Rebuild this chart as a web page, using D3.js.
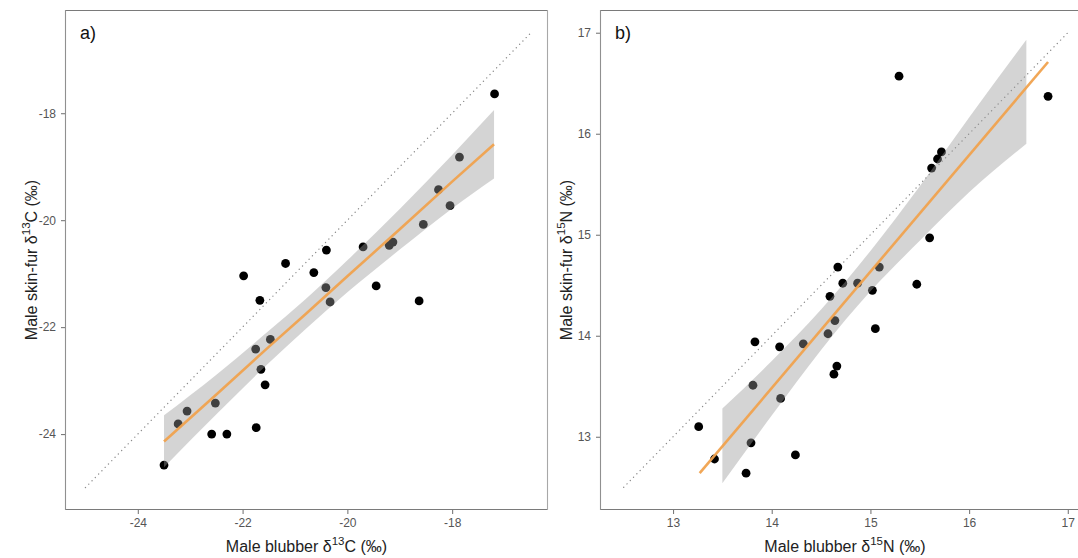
<!DOCTYPE html>
<html><head><meta charset="utf-8">
<script src="https://cdn.jsdelivr.net/npm/d3@7"></script>
<style>
html,body{margin:0;padding:0;background:#fff;}
svg{display:block;font-family:"Liberation Sans",Arial,sans-serif;}
</style></head>
<body>
<svg id="chart" width="1078" height="558"></svg>
<script>
// ---------- Panel a: carbon ----------
const aBlubber = [-21.98,-21.67,-20.64,-21.47,-21.75,-21.65,-21.57,-22.52,-23.06,-23.23,-22.59,-22.30,-21.74,-23.50,
                  -21.18,-20.40,-19.70,-20.41,-20.33,-19.45,-18.63,-19.20,-19.13,-18.55,-18.04,-18.26,-17.86,-17.19];
const aSkin    = [-21.04,-21.50,-20.98,-22.23,-22.41,-22.79,-23.08,-23.42,-23.57,-23.81,-24.00,-24.00,-23.88,-24.58,
                  -20.81,-20.56,-20.50,-21.26,-21.53,-21.23,-21.51,-20.47,-20.41,-20.08,-19.73,-19.43,-18.82,-17.64];
const aFitX   = [-23.5,-22.5,-21.5,-20.8,-20.0,-19.0,-18.0,-17.2];
const aFitY   = [-24.14,-23.26,-22.37,-21.76,-21.05,-20.17,-19.28,-18.58];
const aLower  = [-24.62,-23.63,-22.67,-22.04,-21.35,-20.55,-19.78,-19.22];
const aUpper  = [-23.65,-22.89,-22.07,-21.48,-20.75,-19.79,-18.78,-17.94];
const aOneToOne = [-25, -16.5];
const aTicksX = [-24,-22,-20,-18];
const aTicksY = [-24,-22,-20,-18];

// ---------- Panel b: nitrogen ----------
const bBlubber = [13.26,13.42,13.74,13.79,14.24,13.81,13.83,14.08,14.09,14.32,14.57,14.59,14.64,14.66,
                  14.63,14.72,14.87,15.02,15.05,15.47,15.29,16.80,15.72,15.68,15.62,15.60,15.09,14.67];
const bSkin    = [13.10,12.78,12.64,12.94,12.82,13.51,13.94,13.89,13.38,13.92,14.02,14.39,14.15,13.70,
                  13.62,14.52,14.52,14.45,14.07,14.51,16.57,16.37,15.82,15.75,15.66,14.97,14.68,14.68];
const bFitX   = [13.27,16.80];
const bFitY   = [12.64,16.71];
const bBandX  = [13.5,14.0,14.5,14.75,15.0,15.5,16.0,16.58];
const bLower  = [12.54,13.21,13.86,14.16,14.44,14.94,15.42,15.90];
const bUpper  = [13.28,13.75,14.26,14.54,14.84,15.48,16.16,16.93];
const bOneToOne = [12.5, 17];
const bTicksX = [13,14,15,16,17];
const bTicksY = [13,14,15,16,17];

const svg = d3.select("#chart");
const TOP = 10, BOTTOM = 510;

function panel(cfg){
  const x = d3.scaleLinear().domain(cfg.xDomain).range([cfg.left, cfg.right]);
  const y = d3.scaleLinear().domain(cfg.yDomain).range([BOTTOM, TOP]);
  const g = svg.append("g");
  const clipId = "clip" + cfg.id;
  svg.append("clipPath").attr("id", clipId).append("rect")
    .attr("x", cfg.left).attr("y", TOP).attr("width", cfg.right - cfg.left).attr("height", BOTTOM - TOP);
  const body = g.append("g").attr("clip-path", `url(#${clipId})`);

  // 1:1 dotted line
  body.append("line")
    .attr("x1", x(cfg.oneToOne[0])).attr("y1", y(cfg.oneToOne[0]))
    .attr("x2", x(cfg.oneToOne[1])).attr("y2", y(cfg.oneToOne[1]))
    .attr("stroke", "#8c8c8c").attr("stroke-width", 1.3)
    .attr("stroke-dasharray", "0.1,4.6").attr("stroke-linecap", "round");

  // points
  body.selectAll("circle.pt").data(cfg.px.map((v,i)=>[v, cfg.py[i]])).enter()
    .append("circle").attr("class","pt")
    .attr("cx", d=>x(d[0])).attr("cy", d=>y(d[1])).attr("r", 4.4).attr("fill", "#000");

  // confidence ribbon
  const area = d3.area().x(d=>x(d[0])).y0(d=>y(d[1])).y1(d=>y(d[2])).curve(d3.curveMonotoneX);
  body.append("path").datum(cfg.bandX.map((v,i)=>[v, cfg.lower[i], cfg.upper[i]]))
    .attr("d", area).attr("fill", "#999999").attr("fill-opacity", 0.42);

  // fitted line
  const line = d3.line().x(d=>x(d[0])).y(d=>y(d[1]));
  body.append("path").datum(cfg.fitX.map((v,i)=>[v, cfg.fitY[i]]))
    .attr("d", line).attr("fill","none").attr("stroke", "#F0A24E").attr("stroke-width", 2.6)
    .attr("stroke-opacity", 0.95);

  // border
  const bc = g.append("g");
  bc.append("line").attr("x1", cfg.left).attr("x2", cfg.right).attr("y1", TOP+0.5).attr("y2", TOP+0.5)
    .attr("stroke", "#7a7a7a").attr("stroke-width", 1.1);
  bc.append("line").attr("x1", cfg.left).attr("x2", cfg.right).attr("y1", BOTTOM-0.5).attr("y2", BOTTOM-0.5)
    .attr("stroke", "#7a7a7a").attr("stroke-width", 1.1);
  bc.append("line").attr("x1", cfg.left+0.5).attr("x2", cfg.left+0.5).attr("y1", TOP).attr("y2", BOTTOM)
    .attr("stroke", "#909090").attr("stroke-width", 1.1);
  bc.append("line").attr("x1", cfg.right-0.5).attr("x2", cfg.right-0.5).attr("y1", TOP).attr("y2", BOTTOM)
    .attr("stroke", "#a8a8a8").attr("stroke-width", 1.1);

  // axes
  const xa = g.append("g").attr("transform", `translate(0,${BOTTOM})`)
    .call(d3.axisBottom(x).tickValues(cfg.ticksX).tickSize(4).tickPadding(4).tickFormat(d3.format("d")));
  const ya = g.append("g").attr("transform", `translate(${cfg.left},0)`)
    .call(d3.axisLeft(y).tickValues(cfg.ticksY).tickSize(4).tickPadding(5).tickFormat(d3.format("d")));
  [xa, ya].forEach(a=>{
    a.select(".domain").remove();
    a.selectAll(".tick line").attr("stroke", "#7a7a7a").attr("stroke-width", 1.1);
    a.selectAll(".tick text").attr("fill", "#555").attr("font-size", 12)
      .attr("font-family", "Liberation Sans, Arial, sans-serif");
  });
  xa.selectAll(".tick text").text(d => d < 0 ? "-" + Math.abs(d) : d);
  ya.selectAll(".tick text").text(d => d < 0 ? "-" + Math.abs(d) : d);

  // panel tag
  g.append("text").attr("x", cfg.left + 15).attr("y", 39).attr("font-size", 18).attr("fill", "#111")
    .text(cfg.tag);

  // x title
  const cx = (cfg.left + cfg.titleRight) / 2;
  const xt = g.append("text").attr("x", cx).attr("y", 552).attr("text-anchor", "middle")
    .attr("font-size", 16).attr("fill", "#222");
  xt.append("tspan").text("Male blubber δ");
  xt.append("tspan").attr("dy", -7).attr("font-size", 11.5).text(cfg.iso);
  xt.append("tspan").attr("dy", 7).text(cfg.el + " (‰)");

  // y title
  const yt = g.append("text")
    .attr("transform", `translate(${cfg.left - 28},${(TOP + BOTTOM) / 2}) rotate(-90)`)
    .attr("text-anchor", "middle").attr("font-size", 16).attr("fill", "#222");
  yt.append("tspan").text("Male skin-fur δ");
  yt.append("tspan").attr("dy", -7).attr("font-size", 11.5).text(cfg.iso);
  yt.append("tspan").attr("dy", 7).text(cfg.el + " (‰)");
}

panel({id:"a", tag:"a)", left:65, right:548, titleRight:548,
  xDomain:[-25.39,-16.17], yDomain:[-25.42,-16.07],
  px:aBlubber, py:aSkin, fitX:aFitX, fitY:aFitY, bandX:aFitX, lower:aLower, upper:aUpper,
  oneToOne:aOneToOne, ticksX:aTicksX, ticksY:aTicksY, iso:"13", el:"C"});

panel({id:"b", tag:"b)", left:600, right:1090, titleRight:1090,
  xDomain:[12.26,17.225], yDomain:[12.275,17.225],
  px:bBlubber, py:bSkin, fitX:bFitX, fitY:bFitY, bandX:bBandX, lower:bLower, upper:bUpper,
  oneToOne:bOneToOne, ticksX:bTicksX, ticksY:bTicksY, iso:"15", el:"N"});
</script>
</body></html>
